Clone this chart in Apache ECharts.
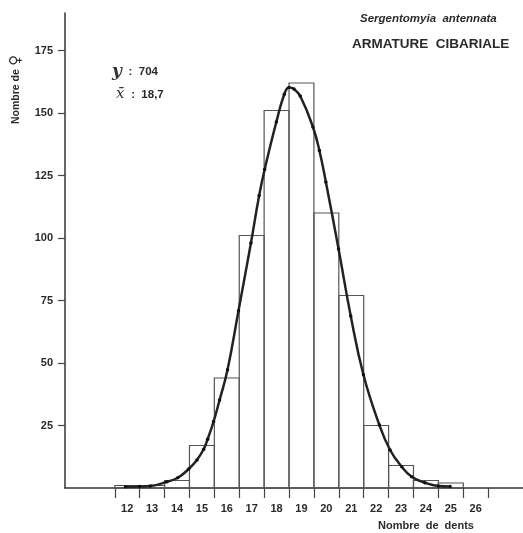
<!DOCTYPE html>
<html>
<head>
<meta charset="utf-8">
<script src="https://cdn.jsdelivr.net/npm/echarts@6/dist/echarts.min.js"></script>
<style>html,body{margin:0;padding:0;background:#fff;}#c{width:523px;height:533px;}</style>
</head>
<body>
<div id="c"></div>
<script>
// Histogram classes (number of teeth) and counts
const teeth = [12, 13, 14, 15, 16, 17, 18, 19, 20, 21, 22, 23, 24, 25];
const counts = [1, 1, 3, 17, 44, 101, 151, 162, 110, 77, 25, 9, 3, 2];
// Fitted curve points [teeth, count]
const curveX = [11.93, 12.5, 12.93, 13.6, 14.03, 14.47, 14.8, 15.07, 15.23, 15.47, 15.71, 16.03, 16.47, 16.97, 17.3, 17.52, 17.99, 18.31, 18.5, 18.7, 18.95, 19.46, 19.72, 19.98, 20.49, 20.98, 21.49, 22.13, 22.56, 23.03, 23.43, 23.96, 24.5, 24.97];
const curveY = [0.5, 0.6, 0.8, 2.5, 4.1, 7.6, 11.2, 15.5, 19.5, 26.6, 35.2, 47.3, 70.9, 98, 117, 127.4, 146.4, 157.5, 160.2, 159.6, 156.8, 144.4, 135, 122.4, 95.6, 68.8, 45.3, 25.2, 15.2, 8.5, 4.5, 2.1, 0.8, 0.6];
// Axis ticks and labels
const xTickBounds = [11.5, 12.5, 13.5, 14.5, 15.5, 16.5, 17.5, 18.5, 19.5, 20.5, 21.5, 22.5, 23.5, 24.5, 25.5, 26.5];
const xLabels = [12, 13, 14, 15, 16, 17, 18, 19, 20, 21, 22, 23, 24, 25, 26];
const yTicks = [25, 50, 75, 100, 125, 150, 175];

const chart = echarts.init(document.getElementById('c'));
const histData = teeth.map((t, i) => [t, counts[i]]);
const curveData = curveX.map((x, i) => [x, curveY[i]]);

const labelFont = { fontFamily: 'Liberation Sans', fontWeight: 'bold', fontSize: 11, color: '#2a2a2a' };

chart.setOption({
  backgroundColor: '#fff',
  animation: false,
  grid: { left: 65, right: 0, top: 13, bottom: 45 },
  xAxis: {
    type: 'value', min: 9.5, max: 27.9,
    splitLine: { show: false },
    axisLine: { show: true, onZero: false, lineStyle: { color: '#333', width: 1.5 } },
    axisTick: { show: true, customValues: xTickBounds, length: 10, inside: false, lineStyle: { color: '#444', width: 1.2 } },
    axisLabel: Object.assign({ customValues: xLabels, margin: 15 }, labelFont)
  },
  yAxis: {
    type: 'value', min: 0, max: 190,
    splitLine: { show: false },
    axisLine: { show: true, lineStyle: { color: '#333', width: 1.5 } },
    axisTick: { show: true, customValues: yTicks, length: 7, lineStyle: { color: '#444', width: 1.2 } },
    axisLabel: Object.assign({ customValues: yTicks, margin: 12 }, labelFont)
  },
  series: [
    {
      type: 'custom',
      data: histData,
      z: 2,
      renderItem: function (params, api) {
        const x = api.value(0), y = api.value(1);
        const p0 = api.coord([x - 0.5, y]);
        const p1 = api.coord([x + 0.5, 0]);
        return {
          type: 'rect',
          shape: { x: p0[0], y: p0[1], width: p1[0] - p0[0], height: p1[1] - p0[1] },
          style: { fill: 'none', stroke: '#555', lineWidth: 1.2 }
        };
      }
    },
    {
      type: 'line',
      data: curveData,
      smooth: 0.45,
      z: 5,
      symbol: 'circle',
      symbolSize: 3.5,
      showSymbol: true,
      itemStyle: { color: '#111' },
      lineStyle: { color: '#222', width: 2.5 }
    }
  ],
  graphic: [
    {
      type: 'text', left: 360, top: 13,
      style: { text: 'Sergentomyia  antennata', fontFamily: 'Liberation Sans', fontStyle: 'italic', fontWeight: 'bold', fontSize: 11.5, fill: '#2a2a2a' }
    },
    {
      type: 'text', left: 352, top: 37,
      style: { text: 'ARMATURE  CIBARIALE', fontFamily: 'Liberation Sans', fontWeight: 'bold', fontSize: 13.5, fill: '#2a2a2a' }
    },
    {
      type: 'text', x: 9, y: 124, rotation: Math.PI / 2,
      style: {
        text: '{a|Nombre de} {b|♀}',
        rich: {
          a: { fontFamily: 'Liberation Sans', fontWeight: 'bold', fontSize: 10.5, fill: '#2a2a2a' },
          b: { fontFamily: 'DejaVu Sans', fontWeight: 'bold', fontSize: 15, fill: '#2a2a2a' }
        },
        verticalAlign: 'top'
      }
    },
    {
      type: 'text', left: 112, top: 63,
      style: {
        text: '{s|y}  {t|:  704}',
        rich: {
          s: { fontFamily: 'DejaVu Serif', fontStyle: 'italic', fontWeight: 'bold', fontSize: 17, fill: '#333' },
          t: { fontFamily: 'Liberation Sans', fontWeight: 'bold', fontSize: 11.5, fill: '#2a2a2a' }
        }
      }
    },
    {
      type: 'text', left: 116, top: 87,
      style: {
        text: '{s|x\u0304}  {t|:  18,7}',
        rich: {
          s: { fontFamily: 'DejaVu Serif', fontStyle: 'italic', fontSize: 15, fill: '#333' },
          t: { fontFamily: 'Liberation Sans', fontWeight: 'bold', fontSize: 11.5, fill: '#2a2a2a' }
        }
      }
    },
    {
      type: 'text', left: 378, top: 520,
      style: { text: 'Nombre  de  dents', fontFamily: 'Liberation Sans', fontWeight: 'bold', fontSize: 11, fill: '#2a2a2a' }
    }
  ]
});
</script>
</body>
</html>
